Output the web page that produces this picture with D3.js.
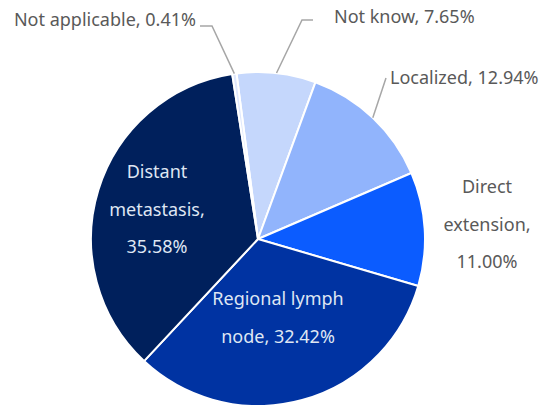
<!DOCTYPE html>
<html>
<head>
<meta charset="utf-8">
<script src="https://cdn.jsdelivr.net/npm/d3@7"></script>
<style>
  body { margin: 0; background: #fff; }
  text { font-family: "Noto Sans", "Open Sans", sans-serif; }
</style>
</head>
<body>
<script>
var categories = ['Not know', 'Localized', 'Direct extension', 'Regional lymph node', 'Distant metastasis', 'Not applicable'];
var values = [7.65, 12.94, 11.00, 32.42, 35.58, 0.41];
var colors = ['#c5d7fc', '#91b4fc', '#0b5cff', '#0033a2', '#00205c', '#dfe8fd'];

var width = 548, height = 405;
var cx = 258, cy = 239, r = 167;
var offset = -7.4 * Math.PI / 180;

var svg = d3.select('body').append('svg')
   .attr('width', width)
   .attr('height', height);

var pie = d3.pie().sort(null).value(function(d) { return d; })
   .startAngle(offset).endAngle(offset + 2 * Math.PI);
var arcs = pie(values);
var arc = d3.arc().innerRadius(0).outerRadius(r);

var g = svg.append('g').attr('transform', 'translate(' + cx + ',' + cy + ')');
g.selectAll('path.slice')
   .data(arcs)
  .enter().append('path')
   .attr('class', 'slice')
   .attr('d', arc)
   .attr('fill', function(d, i) { return colors[i]; })
   .attr('stroke', '#fff')
   .attr('stroke-width', 2)
   .attr('stroke-linejoin', 'round');

// label layout: lines of text, anchor, position, colour, leader elbow
var labels = [
  {i: 0, lines: ['Not know, 7.65%'], x: 334, y: 17, anchor: 'start', fill: '#595959', leader: [[313, 20], [302, 20]]},
  {i: 1, lines: ['Localized, 12.94%'], x: 390, y: 78, anchor: 'start', fill: '#595959', leader: [[386, 78]]},
  {i: 2, lines: ['Direct', 'extension,', '11.00%'], x: 487, y: 187, anchor: 'middle', fill: '#595959'},
  {i: 3, lines: ['Regional lymph', 'node, 32.42%'], x: 278, y: 299, anchor: 'middle', fill: '#dfe6f3'},
  {i: 4, lines: ['Distant', 'metastasis,', '35.58%'], x: 157, y: 172, anchor: 'middle', fill: '#dfe6f3'},
  {i: 5, lines: ['Not applicable, 0.41%'], x: 196, y: 20, anchor: 'end', fill: '#595959', leader: [[200, 26], [212, 26]]}
];
var lineH = 37.5;

labels.forEach(function(l) {
  var t = svg.append('text')
     .attr('text-anchor', l.anchor)
     .attr('fill', l.fill)
     .style('font-size', '18px');
  l.lines.forEach(function(s, k) {
    t.append('tspan')
     .attr('x', l.x)
     .attr('y', l.y + k * lineH)
     .attr('dy', '0.35em')
     .text(s);
  });
  if (l.leader) {
    var a = arcs[l.i];
    var mid = (a.startAngle + a.endAngle) / 2;
    var edge = [cx + r * Math.sin(mid), cy - r * Math.cos(mid)];
    var pts = l.leader.concat([edge]);
    svg.append('path')
       .attr('d', d3.line()(pts))
       .attr('fill', 'none')
       .attr('stroke', '#a6a6a6')
       .attr('stroke-width', 1.5);
  }
});
</script>
</body>
</html>
